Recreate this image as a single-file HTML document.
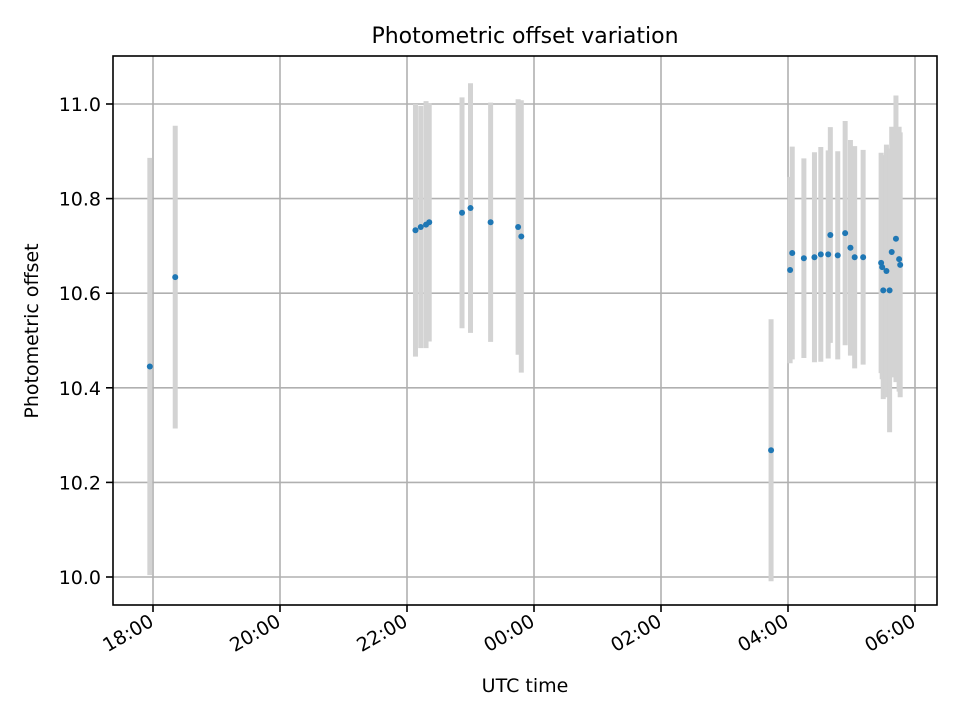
<!DOCTYPE html>
<html><head><meta charset="utf-8"><style>
body{margin:0;background:#fff}
svg text{font-family:"DejaVu Sans","Liberation Sans",sans-serif;fill:#000}
</style></head><body>
<svg id="chart" width="960" height="720" viewBox="0 0 960 720"></svg>
<script>
const times = ["17:57","18:21","22:08","22:13","22:18","22:21","22:52","23:00","23:19","23:45","23:48","03:44","04:02","04:04","04:15","04:25","04:31","04:38","04:40","04:47","04:54","04:59","05:03","05:11","05:28","05:29","05:30","05:33","05:36","05:38","05:42","05:45","05:46"];
const offsets = [10.445,10.634,10.733,10.74,10.745,10.75,10.77,10.78,10.75,10.74,10.72,10.268,10.649,10.685,10.674,10.676,10.682,10.682,10.723,10.68,10.727,10.696,10.676,10.676,10.664,10.655,10.606,10.647,10.606,10.687,10.715,10.672,10.66];
const errors = [0.441,0.32,0.267,0.256,0.261,0.252,0.244,0.264,0.253,0.27,0.288,0.277,0.197,0.225,0.211,0.222,0.227,0.22,0.228,0.22,0.237,0.228,0.235,0.227,0.233,0.237,0.23,0.267,0.3,0.265,0.303,0.28,0.28];
const yTicks = [10.0,10.2,10.4,10.6,10.8,11.0];
const xTickLabels = ["18:00","20:00","22:00","00:00","02:00","04:00","06:00"];

const NS="http://www.w3.org/2000/svg";
const svg=document.getElementById('chart');
const L=113,R=937,T=56,B=605;
function toMin(s){let [h,m]=s.split(':').map(Number);let v=(h*60+m)-18*60;if(v<-120)v+=1440;return v;}
function xs(min){return 153+min*63.5/60;}
function ys(v){return 577-(v-10)*473;}
function mk(tag,attrs,parent){const e=document.createElementNS(NS,tag);for(const k in attrs)e.setAttribute(k,attrs[k]);(parent||svg).appendChild(e);return e;}

// grid
xTickLabels.forEach((lab,i)=>{
  const x=xs(toMin(lab)+(i>=3?0:0));
  const g=mk('line',{x1:x,x2:x,y1:T,y2:B,stroke:'#b0b0b0','stroke-width':1.6});
  
  
});
yTicks.forEach(v=>{
  const y=ys(v);
  const g=mk('line',{x1:L,x2:R,y1:y,y2:y,stroke:'#b0b0b0','stroke-width':1.6});
  
  
});
// error bars
times.forEach((t,i)=>{
  const x=xs(toMin(t));
  const e=mk('line',{x1:x,x2:x,y1:ys(offsets[i]+errors[i]),y2:ys(offsets[i]-errors[i]),stroke:'#d3d3d3','stroke-width':5});
  
  
});
times.forEach((t,i)=>{
  const c=mk('circle',{cx:xs(toMin(t)),cy:ys(offsets[i]),r:3,fill:'#1f77b4'});
  
  
});
// spines
const fr=mk('rect',{x:L,y:T,width:R-L,height:B-T,fill:'none',stroke:'#000','stroke-width':1.6});


// ticks
yTicks.forEach(v=>{
  const y=ys(v);
  mk('line',{x1:L-7,x2:L,y1:y,y2:y,stroke:'#000','stroke-width':1.6});
  const t=mk('text',{x:L-12,y:y+7,'text-anchor':'end','font-size':19});
  t.textContent=v.toFixed(1);
  
  
});
xTickLabels.forEach(lab=>{
  const x=xs(toMin(lab));
  mk('line',{x1:x,x2:x,y1:B,y2:B+7,stroke:'#000','stroke-width':1.6});
  const t=mk('text',{x:x+2,y:B+20,'text-anchor':'end','font-size':19,transform:`rotate(-30 ${x+2} ${B+20})`});
  t.textContent=lab;
  
  
});
const ti=mk('text',{x:525,y:43,'text-anchor':'middle','font-size':22});
ti.textContent='Photometric offset variation';


const xl=mk('text',{x:525,y:692,'text-anchor':'middle','font-size':19});
xl.textContent='UTC time';


const yl=mk('text',{x:38,y:331,'text-anchor':'middle','font-size':19,transform:'rotate(-90 38 331)'});
yl.textContent='Photometric offset';


</script>
</body></html>
